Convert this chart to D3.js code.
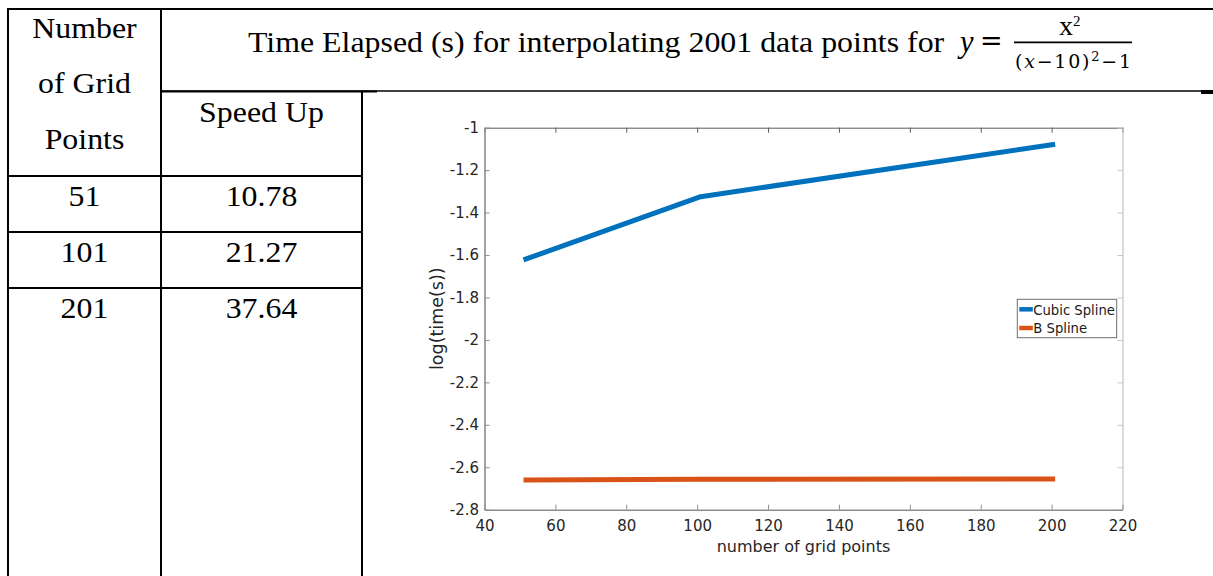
<!DOCTYPE html>
<html>
<head>
<meta charset="utf-8">
<script src="https://cdn.jsdelivr.net/npm/d3@7/dist/d3.min.js"></script>
<style>
  html, body { margin: 0; padding: 0; background: #fff; }
  svg { display: block; }
</style>
</head>
<body>
<svg id="fig" width="1213" height="576"></svg>
<script>
// ---- data ----
const headerLines = ["Number", "of Grid", "Points"];
const titleText = "Time Elapsed (s) for interpolating 2001 data points for";
const gridPoints = [51, 101, 201];
const speedUp = [10.78, 21.27, 37.64];
const cubicSpline = [-1.623, -1.325, -1.078];
const bSpline = [-2.66, -2.657, -2.655];
const xTicks = [40, 60, 80, 100, 120, 140, 160, 180, 200, 220];
const yTicks = [-2.8, -2.6, -2.4, -2.2, -2, -1.8, -1.6, -1.4, -1.2, -1];
const seriesNames = ["Cubic Spline", "B Spline"];
const seriesColors = ["#0072BD", "#D95319"];

const svg = d3.select("#fig");
svg.append("rect").attr("width", 1213).attr("height", 576).attr("fill", "#fff");

// ---- table grid ----
const serif = "'Liberation Serif', 'Times New Roman', serif";
const colX = [8, 161, 362];
const rowY = [176, 232, 288];
const tbl = svg.append("g").attr("stroke", "#000").attr("fill", "none");
tbl.append("line").attr("x1", 7).attr("x2", 1213).attr("y1", 9).attr("y2", 9).attr("stroke-width", 2);
tbl.append("line").attr("x1", colX[0]).attr("x2", colX[0]).attr("y1", 8).attr("y2", 576).attr("stroke-width", 2);
tbl.append("line").attr("x1", colX[1]).attr("x2", colX[1]).attr("y1", 8).attr("y2", 576).attr("stroke-width", 2);
tbl.append("line").attr("x1", colX[2]).attr("x2", colX[2]).attr("y1", 91).attr("y2", 576).attr("stroke-width", 2);
tbl.append("line").attr("x1", colX[1]).attr("x2", 1201).attr("y1", 91).attr("y2", 91).attr("stroke-width", 1.5);
tbl.append("line").attr("x1", colX[1]).attr("x2", 377).attr("y1", 91.5).attr("y2", 91.5).attr("stroke-width", 2.2);
tbl.append("line").attr("x1", 1201).attr("x2", 1213).attr("y1", 92).attr("y2", 92).attr("stroke-width", 4);
rowY.forEach(y => {
  tbl.append("line").attr("x1", colX[0] - 1).attr("x2", colX[2] + 1).attr("y1", y).attr("y2", y).attr("stroke-width", 2);
});

// cell text is set slightly wide, as in the source document
const wide = 1.045;
const txt = svg.append("g").attr("font-family", serif).attr("font-size", 30.5).attr("fill", "#000");
function cellText(x, y, s) {
  txt.append("text").attr("transform", `translate(${x},${y}) scale(${wide},1)`)
    .attr("text-anchor", "middle").text(s);
}
const c1 = (colX[0] + colX[1]) / 2, c2 = (colX[1] + colX[2]) / 2;
headerLines.forEach((s, i) => cellText(c1, 38 + i * 55.3, s));
cellText(c2, 122, "Speed Up");
gridPoints.forEach((g, i) => cellText(c1, rowY[i] + 30, g));
speedUp.forEach((v, i) => cellText(c2, rowY[i] + 30, v.toFixed(2)));

// title with formula
txt.append("text").attr("transform", "translate(248,51.5) scale(1.045,1)").text(titleText);
txt.append("text").attr("x", 960).attr("y", 51.5).attr("font-style", "italic").text("y");
svg.append("text").attr("x", 980).attr("y", 50).attr("font-family", "'DejaVu Serif', serif")
  .attr("font-size", 27).text("=");
svg.append("line").attr("x1", 1014).attr("x2", 1132).attr("y1", 42.3).attr("y2", 42.3)
  .attr("stroke", "#000").attr("stroke-width", 1.8);
const num = svg.append("text").attr("font-family", serif).attr("x", 1059).attr("y", 35).attr("font-size", 28);
num.append("tspan").text("x");
num.append("tspan").attr("font-size", 15).attr("dy", -9).text("2");
const den = svg.append("text").attr("font-family", "'DejaVu Serif', serif").attr("x", 1015).attr("y", 68.3)
  .attr("font-size", 19).attr("textLength", 116).attr("lengthAdjust", "spacing");
den.append("tspan").text("(");
den.append("tspan").attr("font-style", "italic").text("x");
den.append("tspan").text("\u221210)");
den.append("tspan").attr("font-size", 13).attr("dy", -7).text("2");
den.append("tspan").attr("dy", 7).text("\u22121");

// ---- chart ----
const plot = { left: 484.5, right: 1122.5, top: 127.7, bottom: 509.7 };
const x = d3.scaleLinear().domain([40, 220]).range([plot.left, plot.right]);
const y = d3.scaleLinear().domain([-2.8, -1]).range([plot.bottom, plot.top]);
const sans = "'DejaVu Sans', sans-serif";
const tickFmt = d => String(d);

function styleAxis(g, color, width) {
  g.attr("font-size", null).attr("font-family", null);
  g.select(".domain").attr("stroke", color).attr("stroke-width", width);
  g.selectAll(".tick line").attr("stroke", color).attr("stroke-width", 1);
  g.selectAll(".tick text").attr("fill", "#262626")
    .style("font-family", sans).style("font-size", "15px");
}

svg.append("g").attr("transform", `translate(0,${plot.top})`)
  .call(d3.axisTop(x).tickValues(xTicks).tickSizeInner(-5).tickSizeOuter(0).tickFormat(""))
  .call(g => styleAxis(g, "#5a5a5a", 1));
svg.append("g").attr("transform", `translate(${plot.right},0)`)
  .call(d3.axisRight(y).tickValues(yTicks).tickSizeInner(-5).tickSizeOuter(0).tickFormat(""))
  .call(g => styleAxis(g, "#c4c4c4", 1.2));
svg.append("g").attr("transform", `translate(0,${plot.bottom})`)
  .call(d3.axisBottom(x).tickValues(xTicks).tickSizeInner(-5).tickSizeOuter(0).tickPadding(10.5).tickFormat(tickFmt))
  .call(g => styleAxis(g, "#8c8c8c", 1.6));
svg.append("g").attr("transform", `translate(${plot.left},0)`)
  .call(d3.axisLeft(y).tickValues(yTicks).tickSizeInner(-5).tickSizeOuter(0).tickPadding(5.5).tickFormat(tickFmt))
  .call(g => styleAxis(g, "#8c8c8c", 1.6));

svg.append("text").attr("x", (plot.left + plot.right) / 2).attr("y", 552)
  .attr("text-anchor", "middle").attr("font-family", sans).attr("font-size", 16).attr("fill", "#262626")
  .text("number of grid points");
svg.append("text")
  .attr("transform", `translate(443,${(plot.top + plot.bottom) / 2}) rotate(-90)`)
  .attr("text-anchor", "middle").attr("font-family", sans).attr("font-size", 17.5).attr("fill", "#262626")
  .text("log(time(s))");

const line = d3.line().x((d, i) => x(gridPoints[i])).y(d => y(d));
[cubicSpline, bSpline].forEach((s, k) => {
  svg.append("path").datum(s).attr("d", line).attr("fill", "none")
    .attr("stroke", seriesColors[k]).attr("stroke-width", 5)
    .attr("stroke-linejoin", "round").attr("stroke-linecap", "butt");
});

// ---- legend ----
const lg = svg.append("g").attr("transform", `translate(${plot.right - 105.2},${plot.top + 171.6})`);
lg.append("rect").attr("width", 99.4).attr("height", 38.4).attr("fill", "#fff")
  .attr("stroke", "#6e6e6e").attr("stroke-width", 1);
seriesNames.forEach((name, k) => {
  const yy = 10 + k * 18.7;
  lg.append("line").attr("x1", 2).attr("x2", 15.5).attr("y1", yy).attr("y2", yy)
    .attr("stroke", seriesColors[k]).attr("stroke-width", 4.5);
  lg.append("text").attr("x", 16).attr("y", yy + 5.5).attr("font-family", sans).attr("font-size", 13.2)
    .attr("fill", "#1a1a1a").text(name);
});
</script>
</body>
</html>
